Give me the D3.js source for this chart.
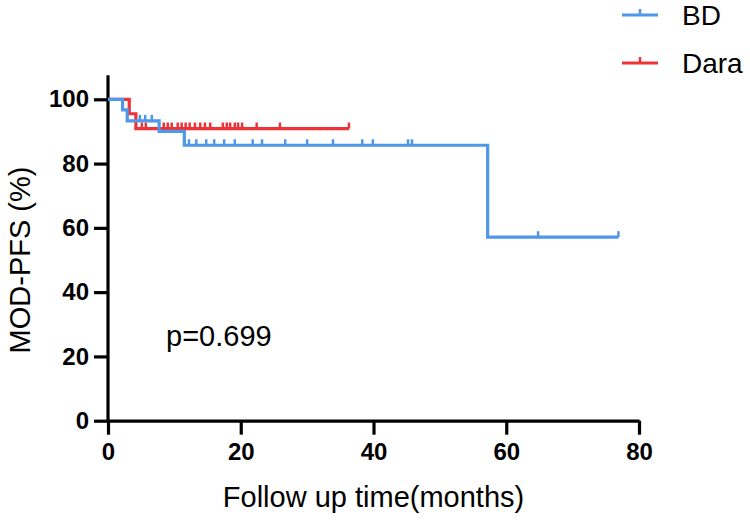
<!DOCTYPE html>
<html>
<head>
<meta charset="utf-8">
<script src="https://cdn.jsdelivr.net/npm/d3@7"></script>
<style>
  body { margin: 0; background: #fff; }
  text { font-family: "Liberation Sans", Arial, sans-serif; }
</style>
</head>
<body>
<div id="chart"></div>
<script>
let width = 750,
  height = 520

// BD group: step times (months) and survival after each step
const bdEventTimes = [2.2, 2.9, 7.7, 11.5, 57.2]
const bdEventSurv = [96.7, 93.3, 90.0, 85.7, 57.1]
const bdEnd = 76.9
const bdCensor = [4.8, 5.6, 6.6, 12.2, 13.3, 14.8, 16.0, 17.5, 19.1, 21.8, 23.2, 26.7, 30.0, 33.9, 38.3, 39.9, 45.2, 45.8, 64.8, 76.9]

// Dara group
const daraEventTimes = [3.2, 4.2]
const daraEventSurv = [95.5, 90.9]
const daraEnd = 36.3
const daraCensor = [5.1, 5.7, 8.4, 9.0, 9.6, 10.5, 11.1, 11.7, 12.3, 13.1, 13.9, 14.6, 15.4, 17.3, 17.9, 18.4, 19.1, 19.6, 20.2, 22.4, 25.9, 36.3]

const groups = ['BD', 'Dara']
const colors = ['#4f97e8', '#ee3237']
const xTicks = [0, 20, 40, 60, 80]
const yTicks = [0, 20, 40, 60, 80, 100]
const pLabel = 'p=0.699'

let svg = d3.select('#chart')
  .append('svg')
  .attr('width', width)
  .attr('height', height)

let x = d3.scaleLinear().domain([0, 80]).range([108, 639])
let y = d3.scaleLinear().domain([0, 100]).range([420.7, 99.3])

// build step points for one curve
function steps(times, surv, end) {
  let pts = [[0, 100]]
  times.forEach((t, i) => pts.push([t, surv[i]]))
  pts.push([end, surv[surv.length - 1]])
  return pts
}
function survAt(times, surv, t) {
  let s = 100
  times.forEach((tt, i) => { if (tt <= t) s = surv[i] })
  return s
}

let curves = [
  { times: bdEventTimes, surv: bdEventSurv, end: bdEnd, censor: bdCensor },
  { times: daraEventTimes, surv: daraEventSurv, end: daraEnd, censor: daraCensor }
]

let line = d3.line()
  .x(d => x(d[0]))
  .y(d => y(d[1]))
  .curve(d3.curveStepAfter)

// axes
let xAxis = svg.append('g')
  .attr('transform', `translate(0,${y(0)})`)
  .call(d3.axisBottom(x).tickValues(xTicks).tickSize(14).tickPadding(8).tickSizeOuter(0))
let yAxis = svg.append('g')
  .attr('transform', `translate(${x(0)},0)`)
  .call(d3.axisLeft(y).tickValues(yTicks).tickSize(14).tickPadding(5).tickSizeOuter(0))

// extend y axis line above 100
yAxis.select('.domain').attr('d', `M0,${y(0)}V${y(107.5)}`)

svg.selectAll('.domain, .tick line')
  .attr('stroke', '#000')
  .attr('stroke-width', 3.2)
svg.selectAll('.tick text')
  .attr('fill', '#000')
  .attr('font-size', '24px')
  .attr('font-weight', 'bold')
  .attr('font-family', '"Liberation Sans", Arial, sans-serif')

// draw Dara first, BD on top
;[1, 0].forEach(i => {
  let c = curves[i]
  let g = svg.append('g')
  g.append('path')
    .attr('d', line(steps(c.times, c.surv, c.end)))
    .attr('fill', 'none')
    .attr('stroke', colors[i])
    .attr('stroke-width', 3.2)
  g.selectAll('line')
    .data(c.censor)
    .enter().append('line')
    .attr('x1', d => x(d))
    .attr('x2', d => x(d))
    .attr('y1', d => y(survAt(c.times, c.surv, d)))
    .attr('y2', d => y(survAt(c.times, c.surv, d)) - 6)
    .attr('stroke', colors[i])
    .attr('stroke-width', 2.5)
})

// legend
groups.forEach((name, i) => {
  let ly = 15 + i * 48
  svg.append('line')
    .attr('x1', 622).attr('x2', 658)
    .attr('y1', ly).attr('y2', ly)
    .attr('stroke', colors[i]).attr('stroke-width', 3.2)
  svg.append('line')
    .attr('x1', 640).attr('x2', 640)
    .attr('y1', ly).attr('y2', ly - 6)
    .attr('stroke', colors[i]).attr('stroke-width', 2.5)
  svg.append('text')
    .attr('x', 682).attr('y', ly + 10)
    .attr('font-size', '28px')
    .text(name)
})

// titles
svg.append('text')
  .attr('x', x(40)).attr('y', 507)
  .attr('text-anchor', 'middle')
  .attr('font-size', '29px')
  .text('Follow up time(months)')

svg.append('text')
  .attr('transform', `translate(30,${y(50)}) rotate(-90)`)
  .attr('text-anchor', 'middle')
  .attr('font-size', '29px')
  .text('MOD-PFS (%)')

svg.append('text')
  .attr('x', 166).attr('y', 346)
  .attr('font-size', '29px')
  .text(pLabel)
</script>
</body>
</html>
